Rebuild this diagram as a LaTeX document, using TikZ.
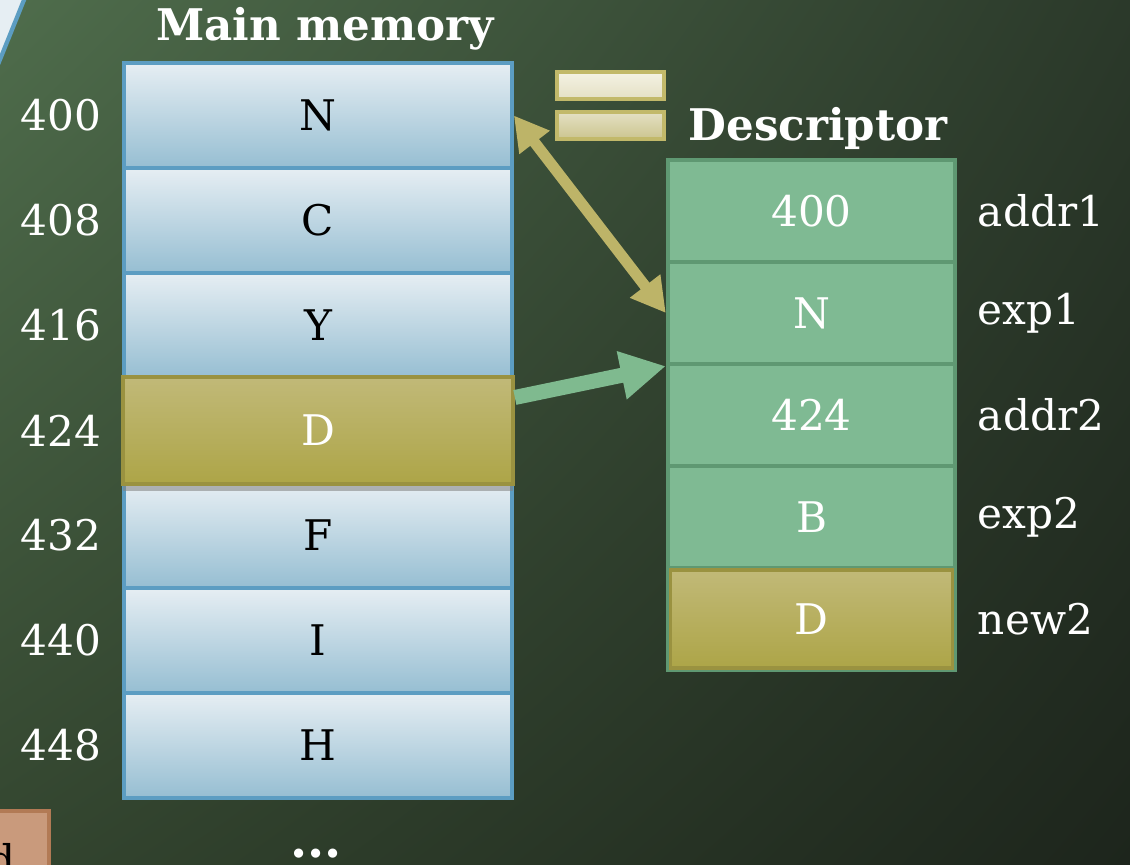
\documentclass[tikz,border=0pt]{standalone}
\usepackage{fontspec}
\setmainfont{DejaVu Serif}
\usetikzlibrary{positioning,arrows.meta,shadows,shadings}

\definecolor{bgul}{HTML}{4F6D4C}
\definecolor{bgur}{HTML}{2B392A}
\definecolor{bgll}{HTML}{33452F}
\definecolor{bglr}{HTML}{1D251C}
\definecolor{memtop}{HTML}{E6EEF3}
\definecolor{membot}{HTML}{96BED2}
\definecolor{memline}{HTML}{5C9DC2}
\definecolor{descfill}{HTML}{7FBA93}
\definecolor{descline}{HTML}{5F9872}
\definecolor{olivetop}{HTML}{C1B978}
\definecolor{olivebot}{HTML}{ADA547}
\definecolor{oliveline}{HTML}{9A9240}
\definecolor{arrowolive}{HTML}{BDB468}
\definecolor{arrowgreen}{HTML}{7FBA8F}
\definecolor{keytop}{HTML}{F4F2E4}
\definecolor{keybot}{HTML}{E4E0C4}
\definecolor{keyline}{HTML}{C2B96A}
\definecolor{tabfill}{HTML}{C99A7C}
\definecolor{tabline}{HTML}{B27A55}

\tikzset{
  memcell/.style={draw=memline, line width=1pt, top color=memtop, bottom color=membot,
    minimum width=3.88cm, minimum height=1.05cm, inner sep=0pt, text=black},
  newcell/.style={draw=oliveline, line width=1pt, top color=olivetop, bottom color=olivebot,
    inner sep=0pt, text=white},
  desccell/.style={draw=descline, line width=1.2pt, fill=descfill,
    minimum width=2.87cm, minimum height=1.02cm, inner sep=0pt, text=white},
  sidelabel/.style={text=white, inner sep=0pt},
  headline/.style={text=white, inner sep=0pt, font=\bfseries\fontsize{12.4}{15}\selectfont},
  keybox/.style={draw=keyline, line width=1pt, minimum width=1.07cm, minimum height=0.27cm, inner sep=0pt}
}

\begin{document}
\begin{tikzpicture}[x=0.01cm, y=-0.01cm, font=\fontsize{12}{14}\selectfont]
  \useasboundingbox (0,0) rectangle (1130,865);
  \clip (0,0) rectangle (1130,865);

  % Background
  \shade[upper left=bgul, upper right=bgur, lower left=bgll, lower right=bglr]
    (0,0) rectangle (1130,865);
  \filldraw[fill=memtop, draw=memline, line width=1.2pt] (-5,-5) -- (26,-5) -- (-5,72) -- cycle;

  % Main memory cells
  \foreach \a/\c [count=\i from 0] in {400/N,408/C,416/Y,424/D,432/F,440/I,448/H} {
    \node[memcell] (m\i) at (318,{115.5+105*\i}) {\c};
    \node[sidelabel, left=0.2cm of m\i] (a\i) {\a};
  }
  \node[newcell, minimum width=3.9cm, minimum height=1.07cm,
    drop shadow={opacity=0.55, shadow xshift=0cm, shadow yshift=-0.07cm}] (md) at (m3) {D};
  \node[headline] (mtitle) at (325,29) {Main memory};

  % Descriptor
  \foreach \v/\n [count=\i from 0] in {400/addr1,N/exp1,424/addr2,B/exp2} {
    \node[desccell] (d\i) at (811.5,{211+102*\i}) {\v};
    \node[sidelabel, right=0.2cm of d\i] (n\i) {\n};
  }
  \node[desccell] (d4) at (811.5,619) {};
  \node[newcell, minimum width=2.82cm, minimum height=0.98cm] (dnew) at (d4) {D};
  \node[sidelabel, right=0.2cm of d4] (n4) {new2};
  \node[headline] (dtitle) at (818,128) {Descriptor};

  % Legend boxes
  \node[keybox, top color=keytop, bottom color=keybot] (k1) at (610.5,85.5) {};
  \node[keybox, top color=keybot, bottom color=olivetop!70!keybot] (k2) at (610.5,125.5) {};

  % Arrows
  \draw[arrowolive, line width=0.11cm,
    {Triangle[length=0.34cm, width=0.36cm]}-{Triangle[length=0.34cm, width=0.36cm]}]
    (m0.east) -- (d1.west);
  \draw[arrowgreen, line width=0.15cm, -{Triangle[length=0.45cm, width=0.46cm]}]
    ([yshift=0.33cm]md.east) -- (d1.south west);

  % Bottom
  \node[text=white, inner sep=0pt, font=\bfseries\fontsize{14}{16}\selectfont, anchor=base] (dots) at (316,858) {...};
  \filldraw[fill=tabfill, draw=tabline, line width=1pt] (-5,811) rectangle (49,880);
  \node[anchor=base west, inner sep=0pt, text=black] (tab) at (-12,876) {d};
\end{tikzpicture}
\end{document}
